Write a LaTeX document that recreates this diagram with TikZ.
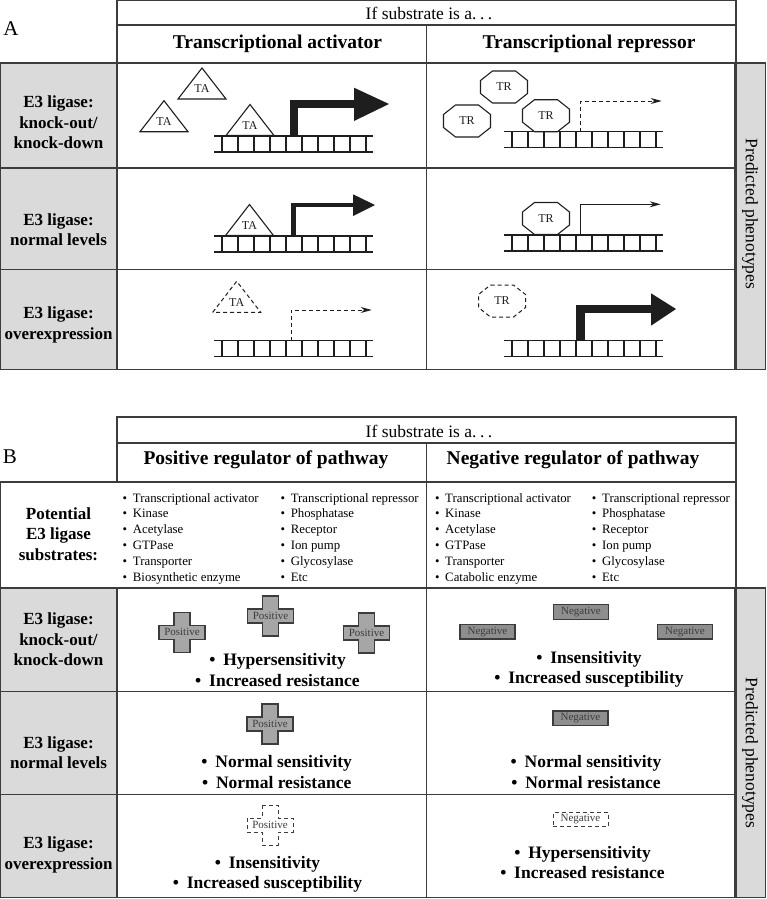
\documentclass[tikz,border=0pt]{standalone}
\usepackage{fontspec}
\setmainfont{Liberation Serif}
\usepackage{tikz}
\usetikzlibrary{arrows.meta}

\definecolor{tabline}{HTML}{3C3C3C}
\definecolor{cellgrey}{HTML}{DADADA}
\definecolor{crossgrey}{HTML}{A6A6A6}
\definecolor{neggrey}{HTML}{8E8E8E}
\definecolor{inkgrey}{HTML}{1E1E1E}

\newcommand{\itm}{\textbullet\hspace{0.45em}}

% DNA ladder: left x, top rail y
\newcommand{\dnastrand}[2]{%
  \draw[dnaline] (#1,#2) -- ++(159,0) (#1,#2+16) -- ++(159,0);
  \foreach \k in {0,...,9} \draw[dnaline] (#1+8+16*\k,#2) -- ++(0,16);}

% activator triangle: name, base centre x, base y, style
\newcommand{\tashape}[4]{%
  \draw[#4] (#2-24,#3) -- (#2,#3-31) -- (#2+24,#3) -- cycle;
  \node[tag] (#1) at (#2,#3-10) {TA};}

% repressor octagon: name, centre x, centre y, style
\newcommand{\trshape}[4]{%
  \draw[#4] (#2-11.5,#3-16) -- (#2+11.5,#3-16) -- (#2+23.5,#3-6.5) -- (#2+23.5,#3+6.5)
    -- (#2+11.5,#3+16) -- (#2-11.5,#3+16) -- (#2-23.5,#3+6.5) -- (#2-23.5,#3-6.5) -- cycle;
  \node[tag] (#1) at (#2,#3) {TR};}

% positive regulator cross: name, centre x, centre y, style
\newcommand{\poscross}[4]{%
  \draw[#4] (#2-8,#3-20) -- (#2+8,#3-20) -- (#2+8,#3-7) -- (#2+23,#3-7) -- (#2+23,#3+7)
    -- (#2+8,#3+7) -- (#2+8,#3+20) -- (#2-8,#3+20) -- (#2-8,#3+7) -- (#2-23,#3+7)
    -- (#2-23,#3-7) -- (#2-8,#3-7) -- cycle;
  \node[mini] (#1) at (#2,#3) {Positive};}

\begin{document}
\begin{tikzpicture}[
  x=1pt, y=-1pt,
  grid/.style    = {draw=tabline, line width=1.3pt},
  greycell/.style= {fill=cellgrey, draw=tabline, line width=1.3pt},
  hdr/.style     = {font=\fontsize{17.5}{21}\selectfont},
  colhdr/.style  = {font=\bfseries\fontsize{19.5}{23}\selectfont},
  panel/.style   = {font=\fontsize{21}{24}\selectfont},
  rowlbl/.style  = {font=\bfseries\fontsize{17}{20.5}\selectfont, align=center},
  sidelbl/.style = {font=\fontsize{17.5}{21}\selectfont, rotate=-90},
  phen/.style    = {font=\bfseries\fontsize{17.5}{20.3}\selectfont, align=center},
  lst/.style     = {font=\fontsize{12.8}{15.8}\selectfont, align=left,
                    anchor=north west, inner sep=0pt},
  tag/.style     = {font=\fontsize{12}{14}\selectfont, inner sep=0pt, text=inkgrey},
  mini/.style    = {font=\fontsize{11}{13}\selectfont, inner sep=0pt, text=tabline},
  dnaline/.style = {draw=inkgrey, line width=1.1pt},
  shapeline/.style = {draw=inkgrey, line width=1.1pt, fill=white},
  shapedash/.style = {draw=inkgrey, line width=1pt, dash pattern=on 4pt off 3pt},
  fatshaft/.style  = {draw=inkgrey, line cap=butt, line join=miter},
  thinarrow/.style = {draw=inkgrey, line width=1pt, -{Stealth[length=11pt,width=6pt]}},
  dashln/.style    = {dash pattern=on 4pt off 3pt},
  crossfill/.style = {draw=tabline, fill=crossgrey, line width=1.2pt},
  crossdash/.style = {draw=tabline, line width=1pt, dash pattern=on 4pt off 3pt},
  negbox/.style    = {mini, draw=tabline, fill=neggrey, line width=1.2pt,
                      minimum width=55pt, minimum height=14.5pt},
  negdash/.style   = {mini, draw=tabline, line width=1pt, dash pattern=on 4pt off 3pt,
                      minimum width=55pt, minimum height=14.5pt}
]
\useasboundingbox (0,0) rectangle (766,899);

% ---------------- panel A: table ----------------
\filldraw[greycell] (0.7,63) rectangle (117,369.5);
\filldraw[greycell] (735,63) rectangle (765.3,369.5);
\draw[grid] (117,0.7) rectangle (736,63);
\draw[grid] (117,25) -- (736,25);
\draw[grid] (0.7,63) rectangle (736,369.5);
\draw[grid] (0.7,168) -- (735,168);
\draw[grid] (0.7,269.5) -- (735,269.5);
\draw[grid] (426.5,25) -- (426.5,369.5);

\node[panel] (lblA) at (11,28.5) {A};
\node[hdr] (ifA) at (429,13) {If substrate is a.\hspace{0.2em}.\hspace{0.2em}.};
\node[colhdr] (actA) at (277.5,44) {Transcriptional activator};
\node[colhdr] (repA) at (589,44) {Transcriptional repressor};

\node[rowlbl] (koA) at (58.5,122.5) {E3 ligase:\\knock-out/\\knock-down};
\node[rowlbl] (nlA) at (58.5,229.5) {E3 ligase:\\normal levels};
\node[rowlbl] (oeA) at (58.5,325) {E3 ligase:\\overexpression};
\node[sidelbl] (predA) at (750,214) {Predicted phenotypes};

% activator column
\dnastrand{214}{136}
\tashape{taTop}{202}{99}{shapeline}
\tashape{taLeft}{164}{131.7}{shapeline}
\tashape{taKo}{250}{135.5}{shapeline}
\draw[fatshaft, line width=8.5pt] (294,136) |- (355,103.8);
\fill[inkgrey] (354,87.7) -- (389,104) -- (354,121) -- cycle;

\dnastrand{214}{236}
\tashape{taNl}{249.5}{235.5}{shapeline}
\draw[fatshaft, line width=4.5pt] (293.7,236) |- (354,205);
\fill[inkgrey] (353,194.3) -- (375,205) -- (353,216) -- cycle;

\dnastrand{214}{340.7}
\tashape{taOe}{236.7}{312.3}{shapedash}
\draw[thinarrow, dashln] (291,340.7) |- (371.7,310);

% repressor column
\dnastrand{504}{131.7}
\trshape{trTop}{504}{87}{shapeline}
\trshape{trLeft}{467}{121}{shapeline}
\trshape{trKo}{546}{115.7}{shapeline}
\draw[thinarrow, dashln] (580.7,131.7) |- (661.7,101);

\dnastrand{504}{235}
\trshape{trNl}{546}{218.5}{shapeline}
\draw[thinarrow] (580.7,235) |- (660.7,204.3);

\dnastrand{504}{340.7}
\trshape{trOe}{502}{301}{shapedash}
\draw[fatshaft, line width=8.5pt] (580.5,340.7) |- (652,308.8);
\fill[inkgrey] (651,293.3) -- (676,309) -- (651,325.7) -- cycle;

% ---------------- panel B: table ----------------
\filldraw[greycell] (0.7,588) rectangle (117,897.5);
\filldraw[greycell] (735,588) rectangle (765.3,897.5);
\draw[grid] (117,417) rectangle (736,482);
\draw[grid] (117,443) -- (736,443);
\draw[grid] (0.7,482) rectangle (736,588);
\draw[grid] (0.7,588) rectangle (736,897.5);
\draw[grid] (0.7,691.5) -- (735,691.5);
\draw[grid] (0.7,794.5) -- (735,794.5);
\draw[grid] (426.5,443) -- (426.5,897.5);

\node[panel] (lblB) at (10,457) {B};
\node[hdr] (ifB) at (429,431) {If substrate is a.\hspace{0.2em}.\hspace{0.2em}.};
\node[colhdr] (posB) at (266,460) {Positive regulator of pathway};
\node[colhdr] (negB) at (573,460) {Negative regulator of pathway};

\node[rowlbl] (subB) at (58.5,534) {Potential\\E3 ligase\\substrates:};
\node[rowlbl] (koB) at (58.5,639.5) {E3 ligase:\\knock-out/\\knock-down};
\node[rowlbl] (nlB) at (58.5,752.5) {E3 ligase:\\normal levels};
\node[rowlbl] (oeB) at (58.5,855) {E3 ligase:\\overexpression};
\node[sidelbl] (predB) at (750,753) {Predicted phenotypes};

% substrate lists
\node[lst] (posListA) at (122.5,493) {\itm Transcriptional activator\\\itm Kinase\\\itm Acetylase\\
  \itm GTPase\\\itm Transporter\\\itm Biosynthetic enzyme};
\node[lst] (posListB) at (280.4,493) {\itm Transcriptional repressor\\\itm Phosphatase\\\itm Receptor\\
  \itm Ion pump\\\itm Glycosylase\\\itm Etc};
\node[lst] (negListA) at (434.8,493) {\itm Transcriptional activator\\\itm Kinase\\\itm Acetylase\\
  \itm GTPase\\\itm Transporter\\\itm Catabolic enzyme};
\node[lst] (negListB) at (591.7,493) {\itm Transcriptional repressor\\\itm Phosphatase\\\itm Receptor\\
  \itm Ion pump\\\itm Glycosylase\\\itm Etc};

% positive regulator column
\poscross{posKo1}{182}{632.3}{crossfill}
\poscross{posKo2}{270.5}{616}{crossfill}
\poscross{posKo3}{366.5}{633}{crossfill}
\node[phen] (phKoPos) at (277.5,670) {\itm Hypersensitivity\\\itm Increased resistance};
\poscross{posNl}{270}{724}{crossfill}
\node[phen] (phNlPos) at (276.7,772) {\itm Normal sensitivity\\\itm Normal resistance};
\poscross{posOe}{270}{825}{crossdash}
\node[phen] (phOePos) at (267.5,874.5) {\itm Insensitivity\\\itm Increased susceptibility};

% negative regulator column
\node[negbox] (negKo1) at (581,612) {Negative};
\node[negbox] (negKo2) at (487.5,631.7) {Negative};
\node[negbox] (negKo3) at (685,631.7) {Negative};
\node[phen] (phKoNeg) at (589,669.5) {\itm Insensitivity\\\itm Increased susceptibility};
\node[negbox] (negNl) at (580.5,718.3) {Negative};
\node[phen] (phNlNeg) at (586,772) {\itm Normal sensitivity\\\itm Normal resistance};
\node[negdash] (negOe) at (580.5,819.5) {Negative};
\node[phen] (phOeNeg) at (582.5,862.5) {\itm Hypersensitivity\\\itm Increased resistance};

\end{tikzpicture}
\end{document}
